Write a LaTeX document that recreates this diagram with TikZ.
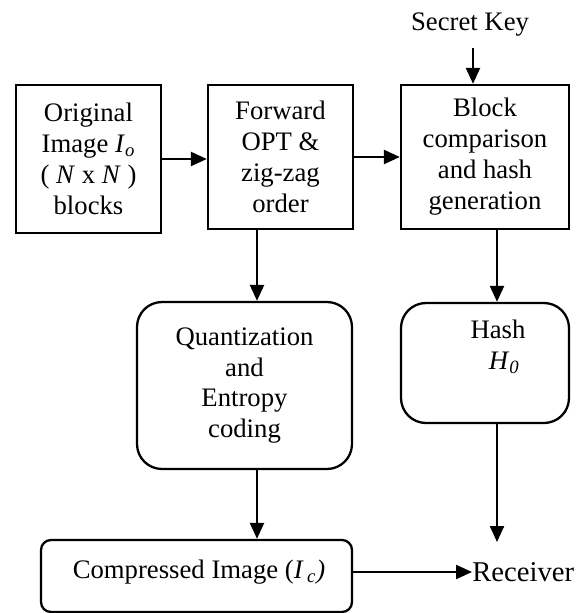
\documentclass[tikz,border=0pt]{standalone}
\usepackage{fontspec}
\setmainfont{Liberation Serif}
\usepackage{tikz}
\usetikzlibrary{arrows.meta,positioning}

\begin{document}
\begin{tikzpicture}[
  box/.style={draw, line width=1.3pt, align=center, inner sep=0pt, minimum width=2.9cm, minimum height=2.88cm},
  rbox/.style={draw, line width=1.3pt, rounded corners=0.5cm, align=center, inner sep=0pt, minimum width=3.36cm},
  edg/.style={-{Triangle[length=0.32cm, width=0.28cm]}, line width=1.3pt},
  every node/.style={font=\fontsize{15.2}{17.6}\selectfont}
]
\useasboundingbox (0,0) rectangle (11.7,-12.26);

\node[box, minimum height=2.96cm] (orig) at (1.77,-3.18) {Original\\Image \textit{I}\textsubscript{\textit{o}}\\( \textit{N} x \textit{N} )\\blocks};
\node[box] (fwd) at (5.61,-3.14) {Forward\\OPT \&\\zig-zag\\order};
\node[box, minimum width=3.36cm] (blk) at (9.70,-3.14) {Block\\comparison\\and hash\\generation};
\node (key) at (9.4,-0.5) {Secret Key};

\node[rbox, minimum width=4.3cm, minimum height=3.34cm] (quant) at (4.89,-7.71) {Quantization\\and\\Entropy\\coding};
\node[rbox, minimum height=2.4cm] (hash) at (9.70,-7.26) {};
\node[align=center] (hashtxt) at (9.96,-6.94) {Hash\\\hspace{0.25cm}\textit{H}\textsubscript{\textit{0}}};

\node[rbox, rounded corners=0.2cm, minimum width=6.22cm, minimum height=1.44cm] (comp) at (3.93,-11.52) {};
\node (comptxt) at (3.98,-11.44) {Compressed Image (\textit{I\,}\textsubscript{\textit{c}}\textit{)}};
\node[anchor=west, inner sep=0pt, font=\fontsize{16.3}{19}\selectfont] (recv) at (9.44,-11.44) {Receiver};

\coordinate (keyin) at (9.46,-0.96);
\coordinate (qx) at (5.14,0);
\coordinate (hx) at (9.94,-10.84);

\draw[edg] (keyin) -- (keyin |- blk.north);
\draw[edg] (orig.east) -- (orig.east -| fwd.west);
\draw[edg] (fwd.east) -- (fwd.east -| blk.west);
\draw[edg] (fwd.south -| qx) -- (quant.north -| qx);
\draw[edg] (blk.south -| hx) -- (hash.north -| hx);
\draw[edg] (quant.south -| qx) -- (comp.north -| qx);
\draw[edg] (hash.south -| hx) -- (hx);
\draw[edg] (comp.east |- recv.west) -- (recv.west);

\end{tikzpicture}
\end{document}
